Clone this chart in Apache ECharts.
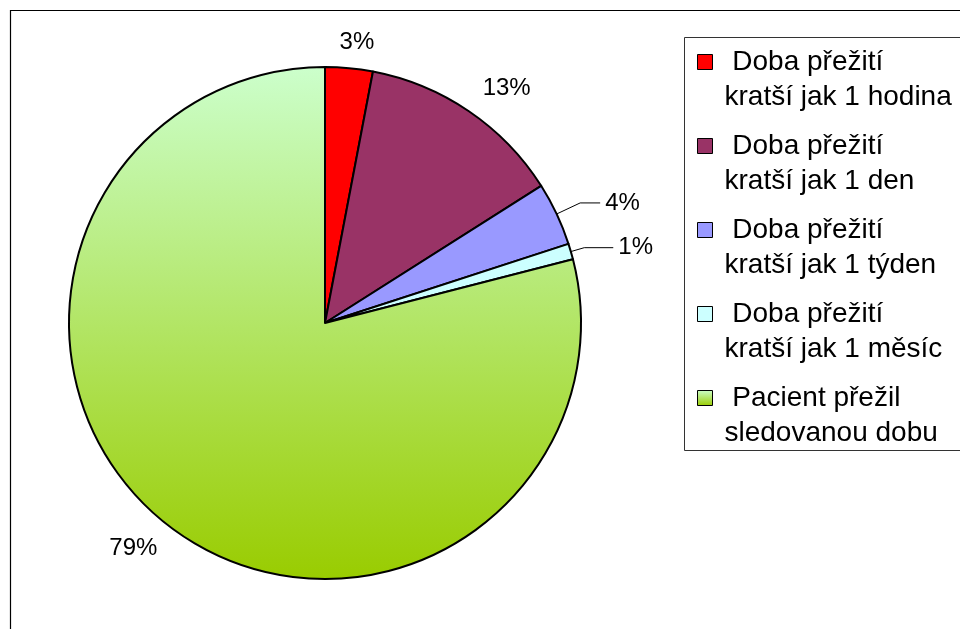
<!DOCTYPE html>
<html>
<head>
<meta charset="utf-8">
<script src="https://cdn.jsdelivr.net/npm/echarts@6/dist/echarts.min.js"></script>
<style>
  html, body { margin: 0; padding: 0; background: #fff; }
  #chart { width: 960px; height: 629px; }
</style>
</head>
<body>
<div id="chart"></div>
<script>
// Survival time categories (two-line legend names) and their shares in percent
const categories = [
  'Doba přežití\nkratší jak 1 hodina',
  'Doba přežití\nkratší jak 1 den',
  'Doba přežití\nkratší jak 1 týden',
  'Doba přežití\nkratší jak 1 měsíc',
  'Pacient přežil\nsledovanou dobu'
];
const shares = [3, 13, 4, 1, 79];

// Slice fills; the last slice uses a vertical light-to-olive green gradient
const sliceColors = [
  '#FF0000',
  '#993366',
  '#9999FF',
  '#CCFFFF',
  new echarts.graphic.LinearGradient(0, 0, 0, 1, [
    { offset: 0, color: '#CCFFCC' },
    { offset: 1, color: '#99CC00' }
  ])
];

// Leader line settings per slice: [first segment, horizontal segment, visible]
const leaderLines = [
  [26, 0, false],
  [28, 0, false],
  [26, 20, true],
  [14, 29, true],
  [29, 0, false]
];
// Horizontal nudges for labels that sit centred over their slice
const labelNudge = [-17, -7, 0, 0, 12];

const FONT = '"Liberation Sans", Arial, Helvetica, sans-serif';

const chart = echarts.init(document.getElementById('chart'), null, { renderer: 'canvas' });

const pieData = categories.map((name, i) => ({
  name: name,
  value: shares[i],
  itemStyle: { color: sliceColors[i] },
  labelLine: {
    show: leaderLines[i][2],
    length: leaderLines[i][0],
    length2: leaderLines[i][1]
  }
}));

chart.setOption({
  backgroundColor: '#ffffff',
  animation: false,
  graphic: [
    {
      type: 'rect',
      z: -10,
      shape: { x: 10.5, y: 10.5, width: 1000, height: 700 },
      style: { fill: 'none', stroke: '#000', lineWidth: 1.2 }
    },
    {
      type: 'rect',
      z: -10,
      shape: { x: 684.5, y: 37.5, width: 400, height: 413 },
      style: { fill: '#fff', stroke: '#333', lineWidth: 1 }
    }
  ],
  legend: {
    orient: 'vertical',
    left: 697,
    top: 9.5,
    padding: 0,
    itemWidth: 15,
    itemHeight: 15,
    itemGap: -21,
    icon: 'rect',
    selectedMode: false,
    itemStyle: { borderColor: '#000', borderWidth: 1 },
    textStyle: {
      fontFamily: FONT,
      fontSize: 28,
      color: '#000',
      lineHeight: 35,
      padding: [0, 0, 0, 7]
    },
    // a blank leading line keeps the swatch level with the first text line
    formatter: name => '\n ' + name,
    data: categories
  },
  series: [
    {
      type: 'pie',
      center: [325, 323],
      radius: 256,
      startAngle: 90,
      clockwise: true,
      avoidLabelOverlap: false,
      emphasis: { disabled: true },
      itemStyle: { borderColor: '#000', borderWidth: 2 },
      label: {
        show: true,
        position: 'outside',
        formatter: '{c}%',
        fontFamily: FONT,
        fontSize: 24,
        color: '#000',
        distanceToLabelLine: 5
      },
      labelLine: {
        show: true,
        smooth: false,
        lineStyle: { color: '#000', width: 1 }
      },
      labelLayout: params => ({ dx: labelNudge[params.dataIndex] }),
      data: pieData
    }
  ]
});
</script>
</body>
</html>
